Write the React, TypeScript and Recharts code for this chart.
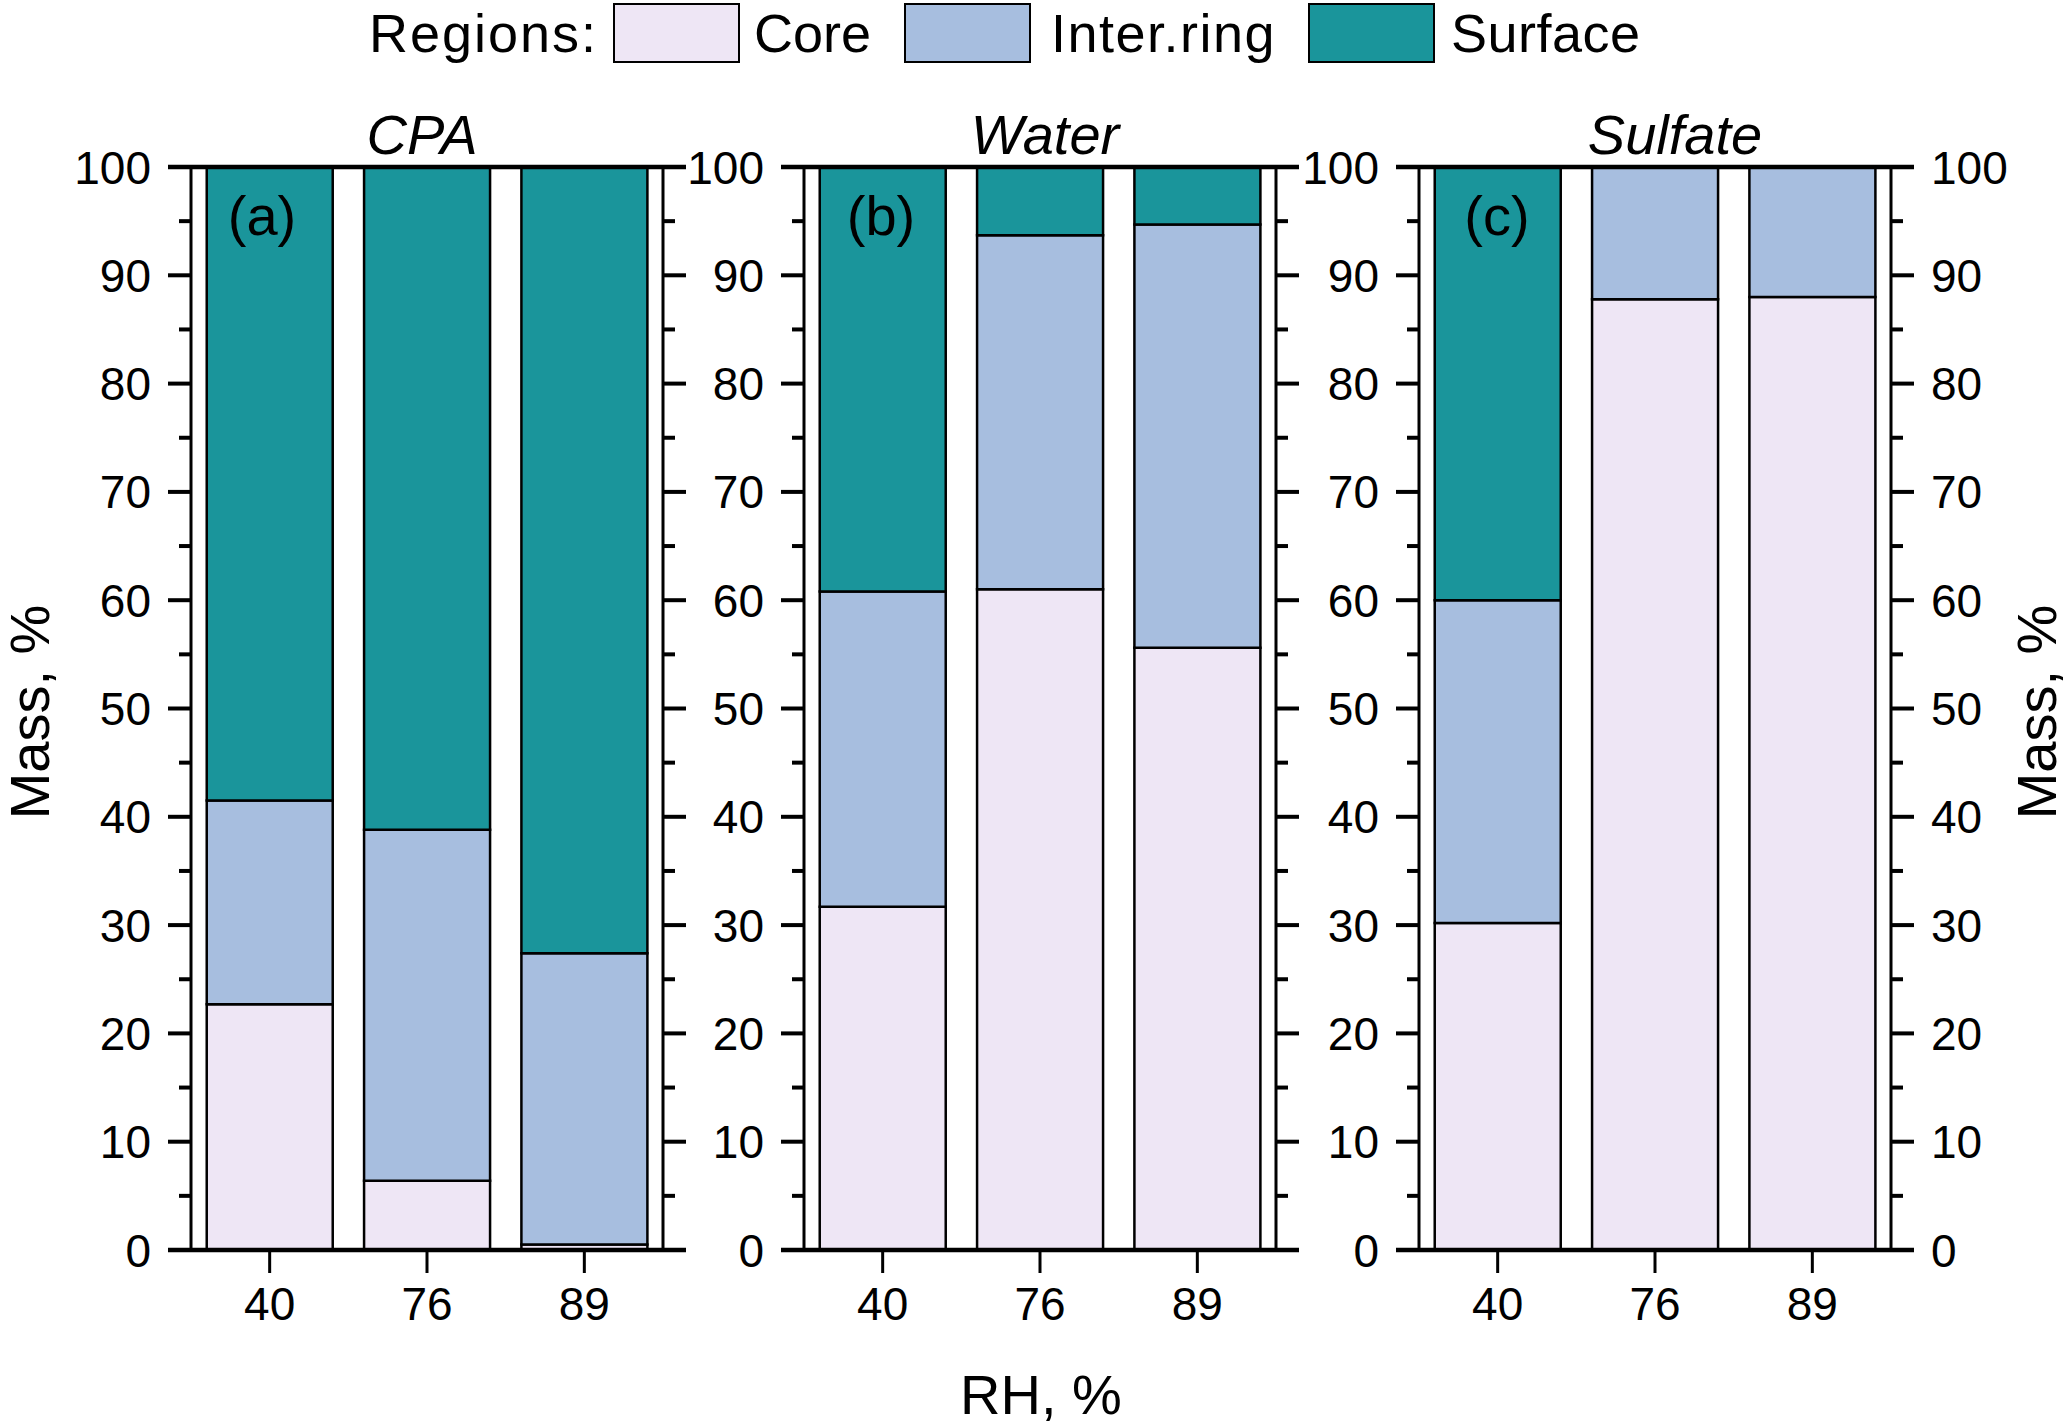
import { Bar, BarChart, XAxis, YAxis } from "recharts";

const PAGE_W = 2067;
const PAGE_H = 1426;
const FONT = "'Liberation Sans', Arial, sans-serif";

// RH levels (x categories)
const rhLevels = ["40", "76", "89"];

// mass fractions, %
const cpaCore = [22.7, 6.4, 0.5];
const cpaInter = [18.8, 32.4, 26.9];
const cpaSurface = [58.5, 61.2, 72.6];

const waterCore = [31.7, 61.0, 55.6];
const waterInter = [29.1, 32.7, 39.1];
const waterSurface = [39.2, 6.3, 5.3];

const sulfateCore = [30.2, 87.8, 88.0];
const sulfateInter = [29.8, 12.2, 12.0];
const sulfateSurface = [40.0, 0, 0];

const yTicks = [0, 5, 10, 15, 20, 25, 30, 35, 40, 45, 50, 55, 60, 65, 70, 75, 80, 85, 90, 95, 100];

const regions = [
    { key: "core", name: "Core", color: "#EEE6F5" },
    { key: "inter", name: "Inter.ring", color: "#A7BEDF" },
    { key: "surface", name: "Surface", color: "#1A959B" },
];

const toRows = (core: number[], inter: number[], surface: number[]) =>
    rhLevels.map((rh, i) => ({ rh, core: core[i], inter: inter[i], surface: surface[i] }));

const PLOT_TOP = 167;
const PLOT_BOTTOM = 1250;
const PLOT_W = 472;
const TICK = 23;

const panels = [
    { title: "CPA", tag: "(a)", left: 191, titleX: 422, tagX: 262, rightLabels: false, rows: toRows(cpaCore, cpaInter, cpaSurface) },
    { title: "Water", tag: "(b)", left: 804, titleX: 1045, tagX: 881, rightLabels: false, rows: toRows(waterCore, waterInter, waterSurface) },
    { title: "Sulfate", tag: "(c)", left: 1419, titleX: 1675, tagX: 1497, rightLabels: true, rows: toRows(sulfateCore, sulfateInter, sulfateSurface) },
];

const makeYTick = (side: "left" | "right", labels: boolean) => (props: any) => {
    const { x, y, payload } = props;
    const major = payload.value % 10 === 0;
    const len = major ? TICK : 12;
    const dir = side === "left" ? -1 : 1;
    return (
        <g>
            <line x1={x} x2={x + dir * len} y1={y} y2={y} stroke="#000" strokeWidth={4} />
            {labels && major && (
                <text
                    x={x + dir * 40}
                    y={y}
                    dy="0.36em"
                    textAnchor={side === "left" ? "end" : "start"}
                    fontSize={46}
                    fontFamily={FONT}
                    fill="#000"
                >
                    {payload.value}
                </text>
            )}
        </g>
    );
};

function Panel({ p }: { p: (typeof panels)[number] }) {
    const margin = {
        top: PLOT_TOP,
        bottom: PAGE_H - PLOT_BOTTOM - 1,
        left: p.left - 1,
        right: PAGE_W - (p.left + PLOT_W) - 1,
    };
    return (
        <div style={{ position: "absolute", left: 0, top: 0 }}>
            <BarChart width={PAGE_W} height={PAGE_H} data={p.rows} margin={margin} barCategoryGap="10%">
                <XAxis
                    dataKey="rh"
                    height={1}
                    interval={0}
                    axisLine={false}
                    tickSize={TICK}
                    tickMargin={14}
                    tickLine={{ stroke: "#000", strokeWidth: 3 }}
                    tick={{ fontSize: 46, fill: "#000", fontFamily: FONT }}
                />
                <YAxis
                    yAxisId="l"
                    type="number"
                    orientation="left"
                    width={1}
                    domain={[0, 100]}
                    allowDataOverflow
                    ticks={yTicks}
                    interval={0}
                    tickSize={0}
                    tickMargin={0}
                    tickLine={false}
                    axisLine={{ stroke: "#000", strokeWidth: 3 }}
                    tick={makeYTick("left", true)}
                />
                <YAxis
                    yAxisId="r"
                    type="number"
                    orientation="right"
                    width={1}
                    domain={[0, 100]}
                    allowDataOverflow
                    ticks={yTicks}
                    interval={0}
                    tickSize={0}
                    tickMargin={0}
                    tickLine={false}
                    axisLine={{ stroke: "#000", strokeWidth: 3 }}
                    tick={makeYTick("right", p.rightLabels)}
                />
                {regions.map((r) => (
                    <Bar
                        key={r.key}
                        dataKey={r.key}
                        name={r.name}
                        stackId="s"
                        yAxisId="l"
                        fill={r.color}
                        stroke="#000"
                        strokeWidth={2.5}
                        isAnimationActive={false}
                    />
                ))}
            </BarChart>
        </div>
    );
}

function LegendRow() {
    const boxLeft = [613, 904, 1308];
    const textLeft = [754, 1051, 1451];
    const spacing = [0, 1.5, 0.5];
    const txt = { position: "absolute" as const, top: 0, height: 66, lineHeight: "66px", fontFamily: FONT, fontSize: 54, color: "#000", whiteSpace: "nowrap" as const };
    return (
        <>
            <div style={{ ...txt, left: 369, letterSpacing: 2 }}>Regions:</div>
            {regions.map((r, i) => (
                <div key={r.key}>
                    <div
                        style={{
                            position: "absolute",
                            left: boxLeft[i],
                            top: 3,
                            width: 123,
                            height: 56,
                            background: r.color,
                            border: "2.5px solid #000",
                        }}
                    />
                    <div style={{ ...txt, left: textLeft[i], letterSpacing: spacing[i] }}>{r.name}</div>
                </div>
            ))}
        </>
    );
}

export default function App() {
    return (
        <div style={{ position: "absolute", left: 0, top: 0, width: PAGE_W, height: PAGE_H, background: "#fff" }}>
            {panels.map((p) => (
                <Panel key={p.title} p={p} />
            ))}
            <LegendRow />
            <svg
                width={PAGE_W}
                height={PAGE_H}
                style={{ position: "absolute", left: 0, top: 0, pointerEvents: "none" }}
            >
                {panels.map((p) => (
                    <g key={p.title}>
                        <line x1={p.left - TICK} x2={p.left + PLOT_W + TICK} y1={PLOT_TOP} y2={PLOT_TOP} stroke="#000" strokeWidth={4.5} />
                        <line x1={p.left - TICK} x2={p.left + PLOT_W + TICK} y1={PLOT_BOTTOM} y2={PLOT_BOTTOM} stroke="#000" strokeWidth={4.5} />
                        <text x={p.titleX} y={PLOT_TOP - 13} textAnchor="middle" fontStyle="italic" fontSize={56} fontFamily={FONT} fill="#000">
                            {p.title}
                        </text>
                        <text x={p.tagX} y={PLOT_TOP + 68} textAnchor="middle" fontSize={56} fontFamily={FONT} fill="#000">
                            {p.tag}
                        </text>
                    </g>
                ))}
                <text
                    transform="translate(29, 712) rotate(-90)"
                    textAnchor="middle"
                    dy="0.35em"
                    fontSize={56}
                    fontFamily={FONT}
                    fill="#000"
                >
                    Mass, %
                </text>
                <text
                    transform="translate(2036, 712) rotate(-90)"
                    textAnchor="middle"
                    dy="0.35em"
                    fontSize={56}
                    fontFamily={FONT}
                    fill="#000"
                >
                    Mass, %
                </text>
                <text x={1041} y={1414} textAnchor="middle" fontSize={56} fontFamily={FONT} fill="#000">
                    RH, %
                </text>
            </svg>
        </div>
    );
}
